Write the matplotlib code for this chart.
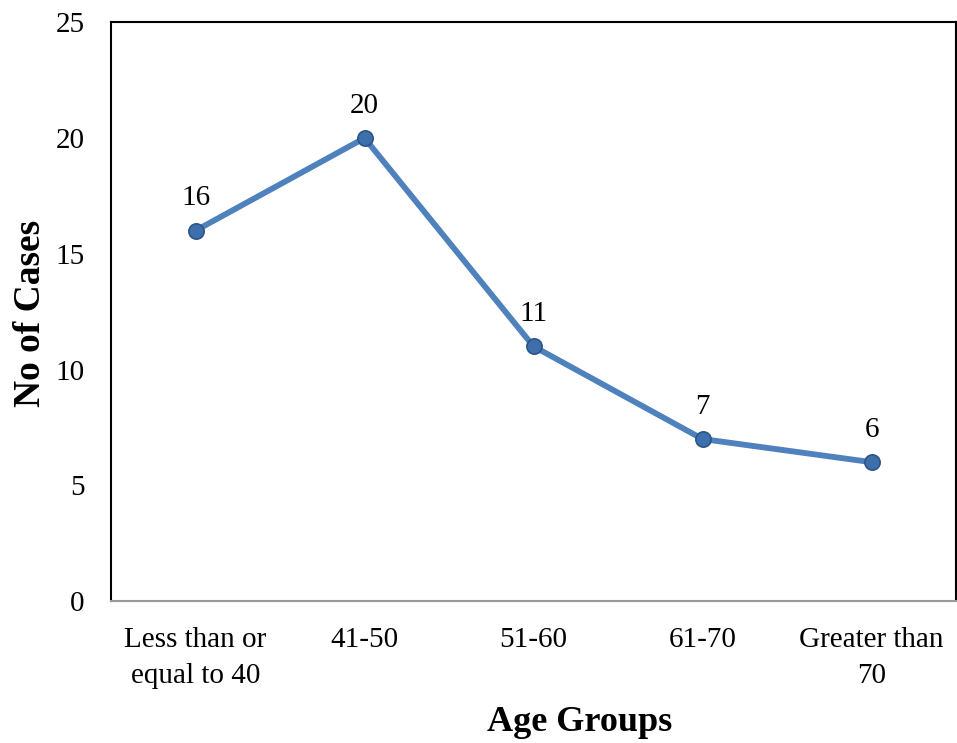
import matplotlib.pyplot as plt

age_groups = ["Less than or\nequal to 40", "41-50", "51-60", "61-70", "Greater than\n70"]
cases = [16, 20, 11, 7, 6]

plt.rcParams['font.family'] = ['Liberation Serif', 'DejaVu Serif']

fig = plt.figure(figsize=(9.57, 7.43), dpi=100)
ax = fig.add_axes([0.116, 0.191, 0.883, 0.779])

x = list(range(len(age_groups)))
ax.plot(x, cases, color="#4F81BD", linewidth=4.2, marker="o", markersize=11,
        markerfacecolor="#3E6FAD", markeredgecolor="#2C5585", markeredgewidth=1.2,
        solid_capstyle="round", zorder=3)

for i, c in enumerate(cases):
    ax.annotate(str(c), (i, c), xytext=(0, 14), textcoords="offset points",
                ha="center", va="bottom", fontsize=21)

ax.set_xlim(-0.5, len(age_groups) - 0.5)
ax.set_ylim(0, 25)
ax.set_yticks([0, 5, 10, 15, 20, 25])
ax.set_xticks(x)
ax.set_xticklabels(age_groups, fontsize=21, linespacing=1.5)
ax.tick_params(axis="y", labelsize=21, length=0, pad=19)
ax.tick_params(axis="x", length=0, pad=19)

for side in ["left", "top", "right"]:
    ax.spines[side].set_color("black")
    ax.spines[side].set_linewidth(1.5)
ax.spines["bottom"].set_color("#999999")
ax.spines["bottom"].set_linewidth(1.5)

ax.set_xlabel("Age Groups", fontsize=26, fontweight="bold")
ax.set_ylabel("No of Cases", fontsize=27, fontweight="bold")
ax.xaxis.set_label_coords(0.555, -0.182)
ax.yaxis.set_label_coords(-0.074, 0.497)

fig.savefig("out.png", dpi=100)
